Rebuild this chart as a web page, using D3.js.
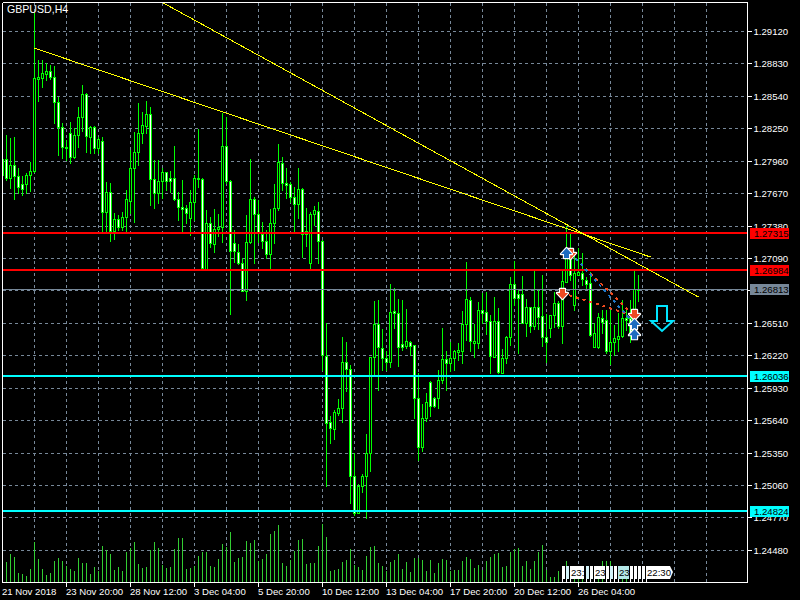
<!DOCTYPE html>
<html><head><meta charset="utf-8">
<script src="https://cdn.jsdelivr.net/npm/d3@7/dist/d3.min.js"></script>
<style>html,body{margin:0;padding:0;background:#000;overflow:hidden}svg{display:block}
text{font-family:"Liberation Sans",sans-serif;font-size:9.6px}</style></head><body>
<div id="c"></div>
<script>
const title = "GBPUSD,H4";
const highs = [127982,128197,128171,128180,127902,127830,127857,127955,129282,128869,
128869,128843,128825,128816,128538,128305,128153,128314,128260,128448,
128645,128574,128278,128278,128180,128180,127776,127767,127498,127480,
127507,127705,128063,128224,128484,128403,128502,128448,127973,127973,
127902,127866,127875,128099,127687,127794,127570,127705,127839,128251,
127812,127525,127463,127534,127489,128395,128359,127794,127346,127221,
127095,127480,127982,127642,127615,127418,127346,127534,127758,128117,
128000,127902,127776,127731,127902,127722,127543,127507,127561,127597,
127257,126513,125680,125733,125832,126387,126343,126136,125348,125070,
125160,125518,126208,126710,126719,126459,126262,126862,126826,126728,
126719,126638,126352,126316,126065,125787,125886,125993,125850,126092,
126468,126262,126343,126271,126334,126620,127059,126746,126504,126701,
126782,126791,126585,126746,126647,126280,126396,126925,127068,126809,
126934,126728,126656,126979,126809,126943,126594,126585,126791,126710,
126988,127382,127319,127149,127185,127140,126925,126970,126513,126603,
126629,126629,126629,126495,126603,126719,126629,126719,126979,126943];
const lows = [127839,127794,127722,127624,127678,127660,127678,127696,127866,128502,
128627,128690,128699,128305,128018,127991,127973,127947,127991,128090,
128233,128045,128036,128036,128036,127328,127328,127248,127266,127346,
127346,127328,127498,127418,127929,128126,128215,127570,127543,127588,
127633,127705,127687,127615,127436,127337,127409,127301,127436,127731,
126997,126988,127194,127149,127292,127239,127767,126594,127059,127042,
126800,126719,127230,127050,127239,127185,127095,127006,127230,127525,
127705,127633,127597,127337,127454,127104,127203,126997,127391,127050,
126092,125052,125438,125473,125688,125626,125904,124900,124793,124811,
124999,124766,125187,126056,125913,126092,126092,126119,126468,126128,
126271,126289,126226,125662,125286,125366,125635,125680,125760,125751,
125975,125913,126083,126092,126181,126154,126361,126262,126208,126289,
126513,126414,126065,126208,126065,126065,126154,126316,126674,126244,
126513,126396,126432,126459,126459,126307,126163,126387,126477,126468,
126334,126880,126898,126629,126943,126853,126826,126396,126298,126289,
126423,126244,126145,126226,126262,126387,126450,126343,126378,126710];
const opens = [127839,127982,127812,127929,127830,127758,127758,127839,127875,128699,
128708,128744,128771,128717,128493,128269,128090,128215,128000,128197,
128359,128565,128180,128269,128081,128144,127507,127687,127337,127445,
127373,127463,127606,127902,128045,128215,128278,128386,127803,127678,
127785,127866,127812,127812,127624,127552,127543,127454,127597,127803,
127803,126997,127409,127221,127355,127373,128099,127785,127230,127149,
127050,126800,127239,127624,127489,127310,127248,127131,127409,127543,
127947,127767,127758,127642,127579,127713,127337,127050,127489,127516,
127248,126217,125626,125563,125706,125751,126163,126101,125142,124811,
125052,125142,125348,126208,126504,126289,126199,126163,126620,126603,
126325,126307,126343,126316,125841,125402,125662,125984,125841,125841,
126002,126190,126154,126199,126253,126262,126504,126719,126334,126334,
126629,126612,126531,126208,126531,126065,126199,126387,126862,126773,
126773,126513,126656,126486,126656,126576,126387,126468,126585,126692,
126486,126880,127140,126674,126943,126961,126898,126871,126298,126298,
126558,126540,126262,126343,126370,126396,126558,126558,126558,126818];
const closes = [127982,127812,127929,127830,127731,127713,127839,127875,128708,128717,
128753,128771,128717,128493,128269,128090,128081,128000,128197,128359,
128565,128188,128269,128081,128162,127507,127687,127337,127445,127373,
127463,127624,127902,128045,128215,128287,128386,127803,127678,127785,
127866,127785,127785,127624,127552,127534,127498,127597,127812,127812,
127006,127409,127230,127355,127373,128099,127785,127158,127158,127050,
126800,127239,127624,127489,127319,127248,127131,127409,127543,127955,
127767,127749,127642,127579,127713,127310,127310,127489,127525,127248,
126226,125617,125572,125715,125751,126163,126101,125142,124811,125052,
125142,125348,126208,126504,126298,126199,126163,126612,126603,126298,
126298,126352,126307,125841,125402,125662,125805,125769,125769,126002,
126190,126154,126199,126262,126271,126504,126728,126352,126352,126629,
126603,126531,126217,126531,126074,126199,126387,126862,126737,126737,
126513,126656,126486,126656,126567,126387,126343,126585,126692,126486,
126889,127140,126943,126961,126970,126907,126862,126405,126423,126567,
126522,126262,126343,126378,126396,126558,126540,126432,126818,126813];
const volumes = [60,61,85,76,28,25,19,40,120,70,40,22,28,64,73,64,49,40,34,73,
58,58,25,46,34,109,97,85,37,46,34,91,103,121,55,43,46,97,121,103,
52,43,46,100,133,133,40,43,49,79,91,91,49,46,70,115,106,151,61,73,
76,124,118,127,64,70,85,145,154,172,58,49,67,94,127,130,55,58,58,109,
175,136,34,37,40,61,67,100,52,46,37,79,106,109,58,49,34,61,67,85,
40,61,31,73,73,67,34,67,28,58,70,67,34,37,37,64,76,70,43,52,
37,64,76,85,88,46,49,91,100,103,49,64,40,64,91,112,37,16,16,34,
40,64,12,14,12,10,12,10,14,12,64,64,64,12,14,12,14,12,16,10];
const priceTicks = [129120,128830,128540,128250,127960,127670,127380,127090,126800,126510,126220,125930,125640,125350,125060,124770,124480];
const hiddenTick = 126800;
const dateTickBars = [0,16,32,48,64,80,96,112,128,144];
const dateLabels = ["21 Nov 2018","23 Nov 20:00","28 Nov 12:00","3 Dec 04:00","5 Dec 20:00","10 Dec 12:00","13 Dec 04:00","17 Dec 20:00","20 Dec 12:00","26 Dec 04:00"];
const gridBars = d3.range(8,184,8);
const resistance = [127315,126984];
const support = [126036,124824];
const bid = 126813;
const trendA = [[8,128972],[162,127104]];
const trendB = [[40,129380],[174,126746]];
const dashLower = [[140,126782],[158,126576]];
const dashUpper = [[142,127131],[158,126576]];
const dashBlue = [[141,127185],[158,126504]];
const sellMarks = [[140,126782],[142,127140],[158,126594]];
const buyMarks = [[141,127131],[158,126495],[158,126405]];
const signalArrow = [165,126443];
const tagBars = [140,141,142,146,147,148,151,152,153,154,157,158,159,160,161];
const tagText = ["","","23:","","","23","","","","23","","","","","22:30"];
const tagTint = ["w","b","w","b","w","w","w","b","w","t","w","w","w","w","w"];

const W=800,H=600, L=3, R=747, T=3, B=582;
const x = d3.scaleLinear().domain([0,1]).range([2.5,6.5]);
const y = d3.scaleLinear().domain([129120,124480]).range([31.6,550.4]);
const vol = d3.scaleLinear().domain([0,100]).range([B,B-33.4]);
const py = v => Math.round(y(v))+0.5;
const gy = v => Math.floor(y(v)-0.1)+0.5;

const svg = d3.select("#c").append("svg").attr("width",W).attr("height",H).style("background","#000");
svg.append("defs").append("clipPath").attr("id","plot").append("rect").attr("x",L).attr("y",T).attr("width",R-L).attr("height",B-T);
const gridC="#778899";
const g = svg.append("g").attr("clip-path","url(#plot)").attr("shape-rendering","crispEdges");

g.selectAll("line.gv").data(gridBars).join("line").attr("x1",d=>x(d)).attr("x2",d=>x(d)).attr("y1",T).attr("y2",B)
 .attr("stroke",gridC).attr("stroke-dasharray","3,3");
g.selectAll("line.gh").data(priceTicks).join("line").attr("x1",L).attr("x2",R).attr("y1",d=>gy(d)).attr("y2",d=>gy(d))
 .attr("stroke",gridC).attr("stroke-dasharray","3,3");

// volumes
g.selectAll("line.v").data(volumes).join("line").attr("x1",(d,i)=>x(i)).attr("x2",(d,i)=>x(i))
 .attr("y1",vol(0)).attr("y2",d=>vol(d)).attr("stroke","#32cd32");

// candles
const idx = d3.range(highs.length);
g.selectAll("line.w").data(idx).join("line").attr("x1",i=>x(i)).attr("x2",i=>x(i))
 .attr("y1",i=>py(highs[i])-0.5).attr("y2",i=>py(lows[i])+0.5).attr("stroke","#00ff00");
g.selectAll("rect.b").data(idx).join("rect")
 .attr("x",i=>x(i)-1).attr("width",2)
 .attr("y",i=>py(Math.max(opens[i],closes[i])))
 .attr("height",i=>Math.max(0,py(Math.min(opens[i],closes[i]))-py(Math.max(opens[i],closes[i]))))
 .attr("fill",i=>closes[i]<opens[i]?"#fff":"#000").attr("stroke","#00ff00");

// level lines
const ly = v => Math.floor(y(v));
g.selectAll("line.r").data(resistance).join("line").attr("x1",L).attr("x2",R).attr("y1",ly).attr("y2",ly).attr("stroke","#ff0000").attr("stroke-width",2);
g.selectAll("line.s").data(support).join("line").attr("x1",L).attr("x2",R).attr("y1",ly).attr("y2",ly).attr("stroke","#00ffff").attr("stroke-width",2);
g.append("line").attr("x1",L).attr("x2",R).attr("y1",ly(bid)+.5).attr("y2",ly(bid)+.5).attr("stroke",gridC);

// trend lines and trade paths
const ln = d3.line().x(d=>x(d[0])).y(d=>y(d[1]));
const o = svg.append("g").attr("clip-path","url(#plot)");
[trendA,trendB].forEach(t=>o.append("path").attr("d",ln(t)).attr("fill","none").attr("stroke","#ffff00").attr("stroke-width",1).attr("shape-rendering","crispEdges"));
[[dashLower,"#f04a1e"],[dashUpper,"#f04a1e"],[dashBlue,"#1e78c8"]].forEach(([t,c])=>o.append("path").attr("d",ln(t)).attr("fill","none").attr("stroke",c).attr("stroke-width",2).attr("stroke-dasharray","3,4").attr("shape-rendering","crispEdges"));

const arrowUp="M0,-6L5.5,0L2.5,0L2.5,4L-2.5,4L-2.5,0L-5.5,0Z", arrowDn="M0,6L5.5,0L2.5,0L2.5,-4L-2.5,-4L-2.5,0L-5.5,0Z";
function marks(data,path,fill){
  o.selectAll(null).data(data).join("path").attr("d",path).attr("transform",d=>`translate(${x(d[0])},${y(d[1])})`)
   .attr("fill",fill).attr("stroke","#fff").attr("stroke-width",2.4).attr("paint-order","stroke").attr("stroke-linejoin","round");
}
marks(sellMarks,arrowDn,"#ee4a22");
marks(buyMarks,arrowUp,"#1c6cc0");

// big signal arrow
o.append("path").attr("d","M-5,-25L5,-25L5,-10L11,-10L0,0L-11,-10L-5,-10Z")
 .attr("transform",`translate(${x(signalArrow[0])-0.5},${y(signalArrow[1])})`)
 .attr("fill","none").attr("stroke","#00e5ff").attr("stroke-width",2);

// frame and axes
const fr = svg.append("g").attr("shape-rendering","crispEdges");
fr.append("line").attr("x1",2.5).attr("x2",2.5).attr("y1",2.5).attr("y2",B+.5).attr("stroke","#fff");
fr.append("line").attr("x1",2.5).attr("x2",R+.5).attr("y1",2.5).attr("y2",2.5).attr("stroke","#fff");

const ax = svg.append("g").attr("transform",`translate(0,${B+.5})`).attr("shape-rendering","crispEdges")
 .call(d3.axisBottom(x).offset(0).tickValues(dateTickBars).tickSize(4).tickFormat((d,i)=>dateLabels[i]));
ax.select(".domain").attr("stroke","#fff").attr("d",`M2.5,0H${R+.5}`);
ax.selectAll(".tick line").attr("stroke","#fff").attr("y2",d=>d===0?0:4);
ax.selectAll(".tick text").attr("fill","#fff").attr("text-anchor","start").attr("y",5.5).attr("dy","0.71em").attr("x",-.5)
 .style("font-size","9.6px");

const ay = svg.append("g").attr("transform",`translate(${R+.5},0)`).attr("shape-rendering","crispEdges")
 .call(d3.axisRight(y).offset(0).tickValues(priceTicks).tickSize(4).tickFormat(d=>d===hiddenTick?"":(d/1e5).toFixed(5)));
ay.select(".domain").attr("stroke","#fff").attr("d",`M0,2.5V${B+.5}`);
ay.selectAll(".tick").attr("transform",d=>`translate(0,${gy(d)})`);
ay.selectAll(".tick line").attr("stroke","#fff");
ay.selectAll(".tick text").attr("fill","#fff").attr("x",6).style("font-size","9.6px");

// price tags
[[resistance[0],"#ff0000"],[resistance[1],"#ff0000"],[bid,"#778899"],[support[0],"#00ffff"],[support[1],"#00ffff"]].forEach(([v,c])=>{
  const t=svg.append("g").attr("transform",`translate(750,${ly(v)})`);
  t.append("rect").attr("x",0).attr("y",-5).attr("width",39).attr("height",11).attr("fill",c).attr("shape-rendering","crispEdges");
  t.append("text").attr("x",4).attr("y",4).attr("fill","#000").text((v/1e5).toFixed(5));
});

// order time tags
const tg = svg.append("g");
const tint={w:"#ffffff",b:"#d4f4fa",t:"#b4e8e8"};
tagBars.forEach((b,i)=>{
  const s=tagText[i], w=s.length===0?3:s.length===5?27:s.length===3?14:11, xx=x(b)-.5;
  tg.append("line").attr("x1",xx+.5).attr("x2",xx+.5).attr("y1",578).attr("y2",582).attr("stroke","#fff").attr("shape-rendering","crispEdges");
  if(s==="22:30") tg.append("path").attr("d",`M${xx},566H${xx+24}L${xx+27},572L${xx+24},579H${xx}Z`).attr("fill",tint[tagTint[i]]);
  else tg.append("rect").attr("x",xx).attr("y",566).attr("width",w).attr("height",13).attr("fill",tint[tagTint[i]]);
  if(s) tg.append("text").attr("x",xx+1).attr("y",576).attr("fill","#000").text(s);
});

svg.append("text").attr("x",7).attr("y",13).attr("fill","#fff").style("font-size","10.6px").text(title);
</script>
</body></html>
